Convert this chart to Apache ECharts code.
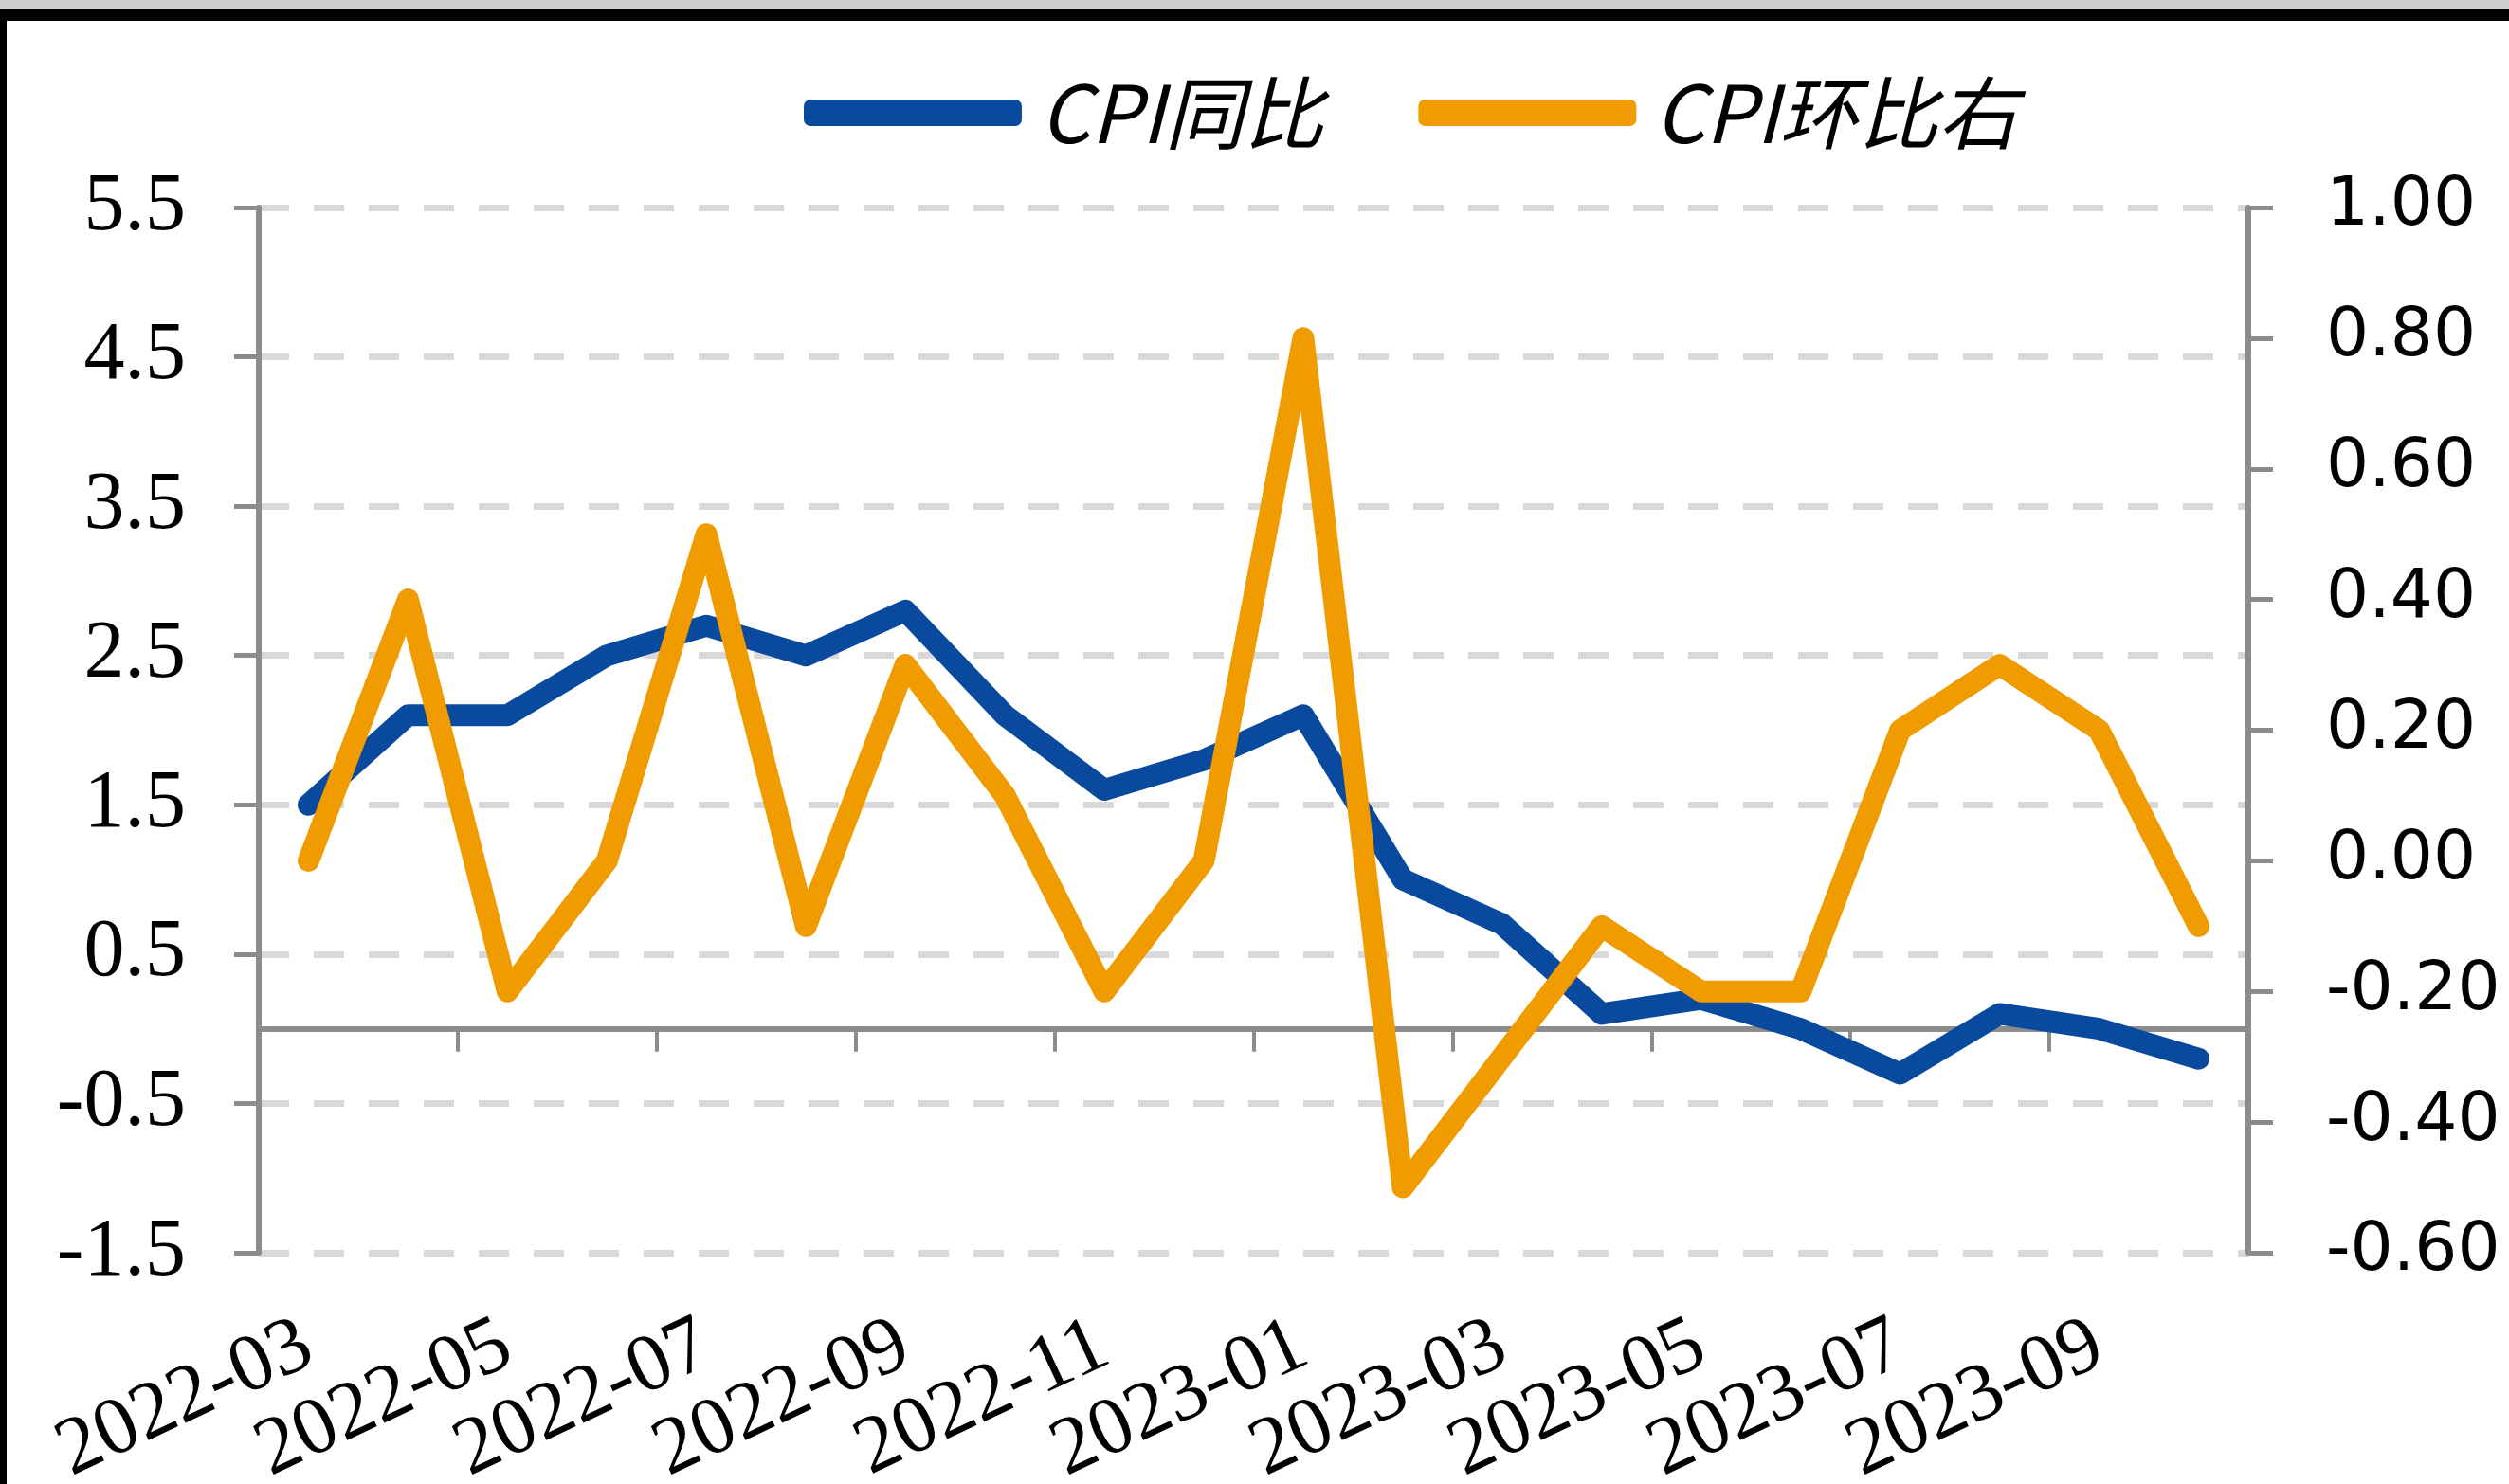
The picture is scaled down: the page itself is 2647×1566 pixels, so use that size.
<!DOCTYPE html>
<html>
<head>
<meta charset="utf-8">
<script src="https://cdn.jsdelivr.net/npm/echarts@6/dist/echarts.min.js"></script>
<style>
html,body{margin:0;padding:0;background:#fff;}
#chart{width:2647px;height:1566px;}
</style>
</head>
<body>
<div id="chart"></div>
<script>
const categories = ['2022-03','2022-04','2022-05','2022-06','2022-07','2022-08','2022-09','2022-10','2022-11','2022-12',
  '2023-01','2023-02','2023-03','2023-04','2023-05','2023-06','2023-07','2023-08','2023-09','2023-10'];
const cpiYoY = [1.5,2.1,2.1,2.5,2.7,2.5,2.8,2.1,1.6,1.8,2.1,1.0,0.7,0.1,0.2,0.0,-0.3,0.1,0.0,-0.2];
const cpiMoM = [0.0,0.4,-0.2,0.0,0.5,-0.1,0.3,0.1,-0.2,0.0,0.8,-0.5,-0.3,-0.1,-0.2,-0.2,0.2,0.3,0.2,-0.1];
const seriesNames = ['CPI同比','CPI环比右'];
const leftTicks = {min:-1.5, max:5.5, interval:1};
const rightTicks = {min:-0.6, max:1.0, interval:0.2};

const chart = echarts.init(document.getElementById('chart'));
const axisGray = '#8c8c8c';
chart.setOption({
  backgroundColor:'#ffffff',
  animation:false,
  graphic:[
    {type:'rect', shape:{x:0,y:0,width:2647,height:9}, style:{fill:'#cfcfcf'}},
    {type:'rect', shape:{x:0,y:9,width:2647,height:13}, style:{fill:'#000'}},
    {type:'rect', shape:{x:0,y:9,width:7,height:1557}, style:{fill:'#000'}}
  ],
  legend:{
    left:843, top:68, itemWidth:230, itemHeight:28, itemGap:100,
    icon:'roundRect',
    textStyle:{fontFamily:'Noto Sans CJK SC', fontSize:84, lineHeight:92, fontStyle:'italic', color:'#000', padding:[0,0,0,14]},
    data:seriesNames
  },
  grid:{left:273, right:275, top:219, bottom:244, containLabel:false, outerBoundsMode:'none'},
  xAxis:[
    {type:'category', data:categories, boundaryGap:true,
     axisLine:{onZero:true, lineStyle:{color:axisGray, width:6}},
     axisTick:{show:true, interval:1, length:24, lineStyle:{color:axisGray, width:4}},
     axisLabel:{show:false}, splitLine:{show:false}},
    {type:'category', data:categories, boundaryGap:true, position:'bottom',
     axisLine:{show:false, onZero:false}, axisTick:{show:false},
     axisLabel:{show:true, interval:1, rotate:25, margin:94,
       fontFamily:'Liberation Serif', fontSize:86, color:'#000'},
     splitLine:{show:false}}
  ],
  yAxis:[
    {type:'value', min:leftTicks.min, max:leftTicks.max, interval:leftTicks.interval, position:'left',
     axisLine:{show:true, onZero:false, lineStyle:{color:axisGray, width:6}},
     axisTick:{show:true, length:26, lineStyle:{color:axisGray, width:5}},
     axisLabel:{margin:77, fontFamily:'Liberation Serif', fontSize:86, color:'#000',
       formatter:v=>v.toFixed(1)},
     splitLine:{show:true, lineStyle:{color:'#d9d9d9', width:7, type:[32,26]}}},
    {type:'value', min:rightTicks.min, max:rightTicks.max, interval:rightTicks.interval, position:'right',
     axisLine:{show:true, onZero:false, lineStyle:{color:axisGray, width:6}},
     axisTick:{show:true, length:26, lineStyle:{color:axisGray, width:5}},
     axisLabel:{margin:82, fontFamily:'DejaVu Sans', fontSize:71, color:'#000',
       formatter:v=>v.toFixed(2)},
     splitLine:{show:false}}
  ],
  series:[
    {name:seriesNames[0], type:'line', data:cpiYoY, xAxisIndex:0, yAxisIndex:0,
     showSymbol:false, symbol:'none', color:'#0A4A9E',
     lineStyle:{width:23, color:'#0A4A9E', cap:'round', join:'round'}},
    {name:seriesNames[1], type:'line', data:cpiMoM, xAxisIndex:0, yAxisIndex:1,
     showSymbol:false, symbol:'none', color:'#F09C00',
     lineStyle:{width:23, color:'#F09C00', cap:'round', join:'round'}}
  ]
});
</script>
</body>
</html>
